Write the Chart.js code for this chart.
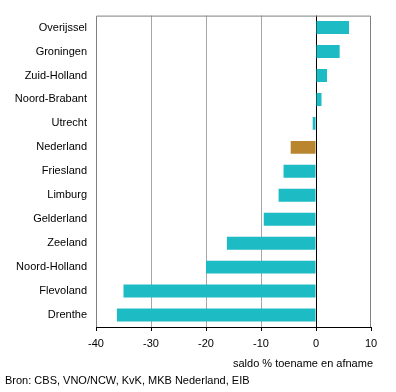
<!DOCTYPE html>
<html>
<head>
<meta charset="utf-8">
<script src="https://cdn.jsdelivr.net/npm/chart.js@4/dist/chart.umd.min.js"></script>
<style>
  html, body { margin: 0; padding: 0; background: #fff; }
  #wrap { width: 396px; height: 392px; position: relative; }
</style>
</head>
<body>
<div id="wrap"><canvas id="chart" width="396" height="392"></canvas></div>
<script>
// regions, top to bottom
var regions = ['Overijssel', 'Groningen', 'Zuid-Holland', 'Noord-Brabant', 'Utrecht', 'Nederland',
  'Friesland', 'Limburg', 'Gelderland', 'Zeeland', 'Noord-Holland', 'Flevoland', 'Drenthe'];
var saldo = [6.0, 4.3, 2.0, 1.0, -0.6, -4.6, -5.9, -6.8, -9.5, -16.2, -20.0, -35.0, -36.2];
var xTicks = [-40, -30, -20, -10, 0, 10];

var axisTitle = 'saldo % toename en afname';
var sourceText = 'Bron: CBS, VNO/NCW, KvK, MKB Nederland, EIB';

var teal = '#1dbbc4';
var brown = '#b9862f';
var font = '"Liberation Sans", Arial, sans-serif';

var barColors = [];
for (var i = 0; i < regions.length; i++) {
  barColors.push(regions[i] === 'Nederland' ? brown : teal);
}

// frame around the plot area + texts below
var extras = {
  id: 'extras',
  beforeDatasetsDraw: function (chart) {
    var a = chart.chartArea;
    var ctx = chart.ctx;
    ctx.save();
    ctx.strokeStyle = '#808080';
    ctx.lineWidth = 1;
    ctx.beginPath();
    ctx.moveTo(a.left + 0.5, a.bottom);
    ctx.lineTo(a.left + 0.5, a.top + 0.5);
    ctx.lineTo(a.right - 0.5, a.top + 0.5);
    ctx.lineTo(a.right - 0.5, a.bottom);
    ctx.stroke();
    ctx.restore();
  },
  afterDraw: function (chart) {
    var a = chart.chartArea;
    var ctx = chart.ctx;
    ctx.save();
    ctx.fillStyle = '#000';
    ctx.font = '11px ' + font;
    ctx.textBaseline = 'middle';
    ctx.textAlign = 'right';
    ctx.fillText(axisTitle, a.right + 2, 364);
    ctx.textAlign = 'left';
    ctx.fillText(sourceText, 5, 381);
    ctx.restore();
  }
};

new Chart(document.getElementById('chart'), {
  type: 'bar',
  data: {
    labels: regions,
    datasets: [{
      data: saldo,
      backgroundColor: barColors,
      borderWidth: 0,
      categoryPercentage: 1,
      barPercentage: 0.54
    }]
  },
  plugins: [extras],
  options: {
    indexAxis: 'y',
    responsive: false,
    animation: false,
    layout: { padding: { top: 15, right: 25, left: 0, bottom: 0 } },
    plugins: {
      legend: { display: false },
      tooltip: { enabled: false }
    },
    scales: {
      x: {
        min: -40,
        max: 10,
        afterBuildTicks: function (scale) {
          scale.ticks = xTicks.map(function (v) { return { value: v }; });
        },
        afterFit: function (scale) { scale.height = 65; },
        grid: {
          color: function (c) {
            if (c.tick && c.tick.value === 0) return '#000';
            if (c.tick && (c.tick.value === -40 || c.tick.value === 10)) return 'rgba(0,0,0,0)';
            return '#a6a6a6';
          },
          tickColor: '#000',
          tickLength: 4,
          lineWidth: 1
        },
        border: { color: '#000', width: 1 },
        ticks: {
          color: '#000',
          font: { family: font, size: 11 },
          padding: 6,
          maxRotation: 0
        }
      },
      y: {
        afterFit: function (scale) { scale.width = 96; },
        grid: { display: false, drawTicks: false },
        border: { display: false },
        ticks: {
          color: '#000',
          font: { family: font, size: 11 },
          padding: 9
        }
      }
    }
  }
});
</script>
</body>
</html>
